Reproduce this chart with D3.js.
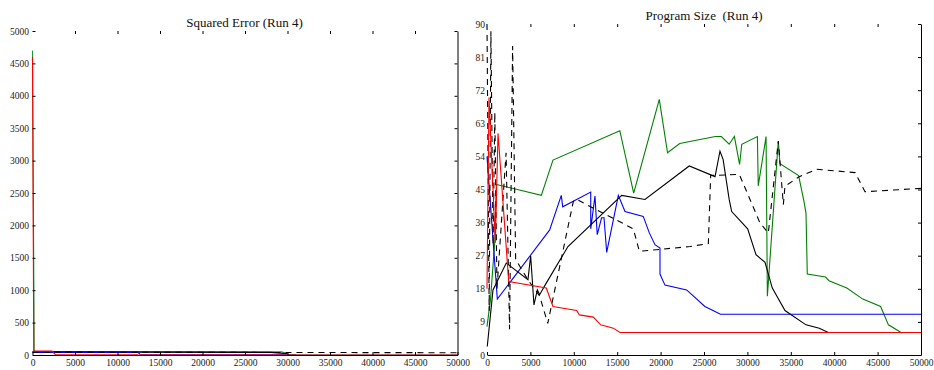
<!DOCTYPE html>
<html>
<head>
<meta charset="utf-8">
<script src="https://cdn.jsdelivr.net/npm/d3@7"></script>
<style>
  body { margin: 0; background: #fff; }
  svg { display: block; }
</style>
</head>
<body>
<svg id="chart" width="934" height="370"></svg>
<script>
// ---- data ----
const xTicks = [0, 5000, 10000, 15000, 20000, 25000, 30000, 35000, 40000, 45000, 50000];
const errTicks = [0, 500, 1000, 1500, 2000, 2500, 3000, 3500, 4000, 4500, 5000];
const sizeTicks = [0, 9, 18, 27, 36, 45, 54, 63, 72, 81, 90];

// squared error, run 4
const errGreen = [[0, 4700], [200, 55], [15000, 52], [29300, 48], [30000, 20]];
const errBlack = [[0, 50], [12000, 45], [28000, 40], [30000, 20]];
const errBlue = [[0, 40], [12400, 40], [12700, 6]];
const errRed = [[0, 4600], [150, 60], [2300, 60], [2700, 4], [12500, 4]];
const errMagenta = [[12600, 8], [31000, 8]];
const errDashed = [[0, 45], [50000, 35]];
const errBrown = [[30000, 3], [50000, 3]];

// program size, run 4
const sizeGreen = [[0, 7.7], [400, 15], [900, 31], [1070, 46.4], [6260, 43.4], [7600, 53], [15300, 61],
  [16900, 44], [19850, 69.5], [20800, 55], [22200, 57.5], [26300, 59.4], [27000, 59.4], [27900, 57.3],
  [28500, 59.4], [29100, 51.8], [29350, 57.3], [31150, 59.4], [31250, 46], [32150, 59.4], [32300, 16],
  [33560, 58.2], [33750, 52], [35900, 48.8], [36500, 42], [36750, 38.6], [36900, 22], [39000, 21.2],
  [39400, 20.2], [41450, 18.2], [43300, 15.2], [45350, 13.2], [46250, 8.2], [47800, 6]];
const sizeBlue = [[0, 54], [1190, 15.2], [7220, 34], [8560, 43.4], [8720, 40.3], [11950, 44.3], [11950, 34.3],
  [12440, 43.2], [12700, 32.7], [13200, 37.3], [13480, 37.3], [13790, 27.9], [15130, 43.4], [15900, 39],
  [18000, 37.7], [18700, 33.2], [19350, 30], [19930, 29.1], [19930, 22], [20500, 19], [23000, 17.7],
  [25100, 13.2], [26900, 11.1], [50000, 11.1]];
const sizeDashed = [[0, 90], [250, 12], [450, 88], [700, 30], [900, 66], [1150, 18], [2200, 55], [2600, 7],
  [2950, 84], [3300, 26], [4700, 20.5], [6070, 16], [7000, 8.6], [9950, 41.8], [10330, 42.3], [16860, 34.3],
  [17550, 28.2], [23400, 29.5], [25500, 30.3], [25770, 48.8], [29070, 49.1], [30300, 42.3], [31450, 35.9],
  [32410, 33.2], [33560, 58.2], [34140, 40.9], [34330, 45.9], [35980, 48.5], [37980, 50.5], [42400, 49.6],
  [43550, 44.4], [50000, 45.3]];
const sizeBlack = [[30, 2.3], [690, 17.7], [2220, 25], [4720, 20.5], [5030, 27], [5410, 13.6], [5800, 17.7],
  [6070, 16.4], [6640, 18.8], [9330, 29.5], [15520, 43.4], [18200, 42.3], [23300, 51.4], [26270, 48.5],
  [26840, 55.4], [27200, 53.2], [27900, 42.3], [28190, 39], [30030, 34.3], [30990, 27.3], [32030, 25.2],
  [32870, 18.2], [34330, 12.1], [36750, 8.2], [38280, 7.3], [39320, 6.1], [50000, 6.1]];
const sizeRed = [[0, 18], [230, 70], [960, 30.5], [1270, 60.3], [2500, 20], [6830, 18.2], [7600, 13.2],
  [10330, 12.1], [10640, 10.9], [12250, 10.3], [13100, 8.2], [14550, 7.3], [15320, 6.1], [50000, 6.1]];

const serif = '"Liberation Serif", "Times New Roman", serif';
const svg = d3.select('#chart');

function styleAxis(a) {
  a.attr('font-family', serif).attr('font-size', 9.5);
  a.selectAll('text').style('font-family', serif).style('font-size', '9.5px').attr('fill', '#222');
}

function panel(opts) {
  const x = d3.scaleLinear().domain([0, 50000]).range(opts.xRange);
  const y = d3.scaleLinear().domain(opts.yDomain).range(opts.yRange);
  const g = svg.append('g');

  // series
  const line = d3.line().x(d => x(d[0])).y(d => y(d[1]));
  opts.series.forEach(s => {
    g.append('path')
      .attr('d', line(s.data))
      .attr('fill', 'none')
      .attr('stroke', s.color)
      .attr('stroke-width', 1.1)
      .attr('stroke-dasharray', s.dash || null);
  });

  // bottom axis
  g.append('g')
    .attr('transform', `translate(0,${opts.yRange[0]})`)
    .call(d3.axisBottom(x).tickValues(xTicks).tickFormat(d3.format('d')).tickSizeInner(-3).tickSizeOuter(0).tickPadding(4))
    .call(styleAxis);

  // top ticks only
  g.append('g')
    .attr('transform', `translate(0,${opts.yRange[1]})`)
    .call(d3.axisTop(x).tickValues(xTicks.slice(1, -1)).tickFormat('').tickSize(-3))
    .call(a => a.select('.domain').remove());

  // left labels + ticks, no line
  g.append('g')
    .attr('transform', `translate(${opts.xRange[0]},0)`)
    .call(d3.axisLeft(y).tickValues(opts.ticks).tickFormat(d3.format('d')).tickSize(opts.leftTick).tickPadding(opts.leftPad))
    .call(a => a.select('.domain').remove())
    .call(styleAxis);

  // right axis line with inward ticks
  g.append('g')
    .attr('transform', `translate(${opts.xRange[1]},0)`)
    .call(d3.axisRight(y).tickValues(opts.ticks).tickFormat('').tickSizeInner(-3).tickSizeOuter(0));

  svg.append('text')
    .attr('x', opts.titleX).attr('y', opts.titleY)
    .attr('text-anchor', 'middle')
    .style('font-family', serif)
    .style('font-size', '13px')
    .style('white-space', 'pre')
    .attr('fill', '#111')
    .text(opts.title);
}

panel({
  xRange: [32.5, 457.5], yDomain: [0, 5000], yRange: [355, 31], ticks: errTicks,
  leftTick: -3, leftPad: 3.5,
  title: 'Squared Error (Run 4)', titleX: 244.5, titleY: 27,
  series: [
    {data: errGreen, color: '#1a9a3a'},
    {data: errBlack, color: '#000'},
    {data: errBlue, color: '#0000ff'},
    {data: errMagenta, color: '#b0207a'},
    {data: errDashed, color: '#000', dash: '6,5'},
    {data: errBrown, color: '#993333'},
    {data: errRed, color: '#ff0000'}
  ]
});

panel({
  xRange: [487, 921], yDomain: [0, 90], yRange: [355, 24], ticks: sizeTicks,
  leftTick: 0, leftPad: 2,
  title: 'Program Size  (Run 4)', titleX: 704, titleY: 19.5,
  series: [
    {data: sizeGreen, color: '#008000'},
    {data: sizeBlue, color: '#0000ff'},
    {data: sizeDashed, color: '#000', dash: '6,5'},
    {data: sizeBlack, color: '#000'},
    {data: sizeRed, color: '#ff0000'}
  ]
});
</script>
</body>
</html>
